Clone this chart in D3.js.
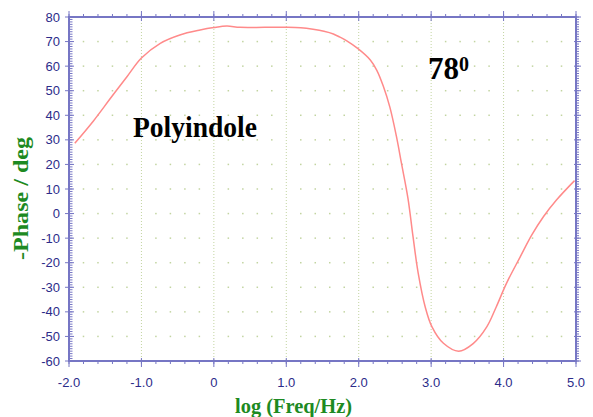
<!DOCTYPE html>
<html>
<head>
<meta charset="utf-8">
<script src="https://cdn.jsdelivr.net/npm/d3@7"></script>
<style>
  html, body { margin: 0; padding: 0; background: #ffffff; }
  svg { display: block; }
</style>
</head>
<body>
<svg id="chart" width="593" height="417"></svg>
<script>
// ---- data ----
const logFreq = [-1.92, -1.66, -1.43, -1.20, -1.00, -0.74, -0.47, -0.19, 0.00, 0.18, 0.36, 0.70, 1.00, 1.20, 1.37, 1.52, 1.65, 1.74, 1.83, 1.99, 2.16, 2.25, 2.34, 2.43, 2.52, 2.59, 2.68, 2.75, 2.82, 2.92, 3.01, 3.17, 3.38, 3.58, 3.77, 3.90, 4.04, 4.23, 4.39, 4.55, 4.73, 4.98];
const phase   = [28.6, 37.8, 46.8, 55.7, 63.3, 69.3, 72.7, 74.7, 75.7, 76.3, 75.8, 75.8, 75.8, 75.6, 75.0, 74.2, 73.1, 71.8, 70.4, 67.1, 62.5, 58.3, 51.8, 43.3, 31.5, 20.5, 6.2, -9.4, -24.0, -38.2, -46.0, -52.8, -56.0, -52.9, -46.0, -37.9, -28.4, -17.6, -8.7, -1.3, 5.5, 13.4];
const xTickValues = [-2, -1, 0, 1, 2, 3, 4, 5];
const xTickLabels = ["-2.0", "-1.0", "0", "1.0", "2.0", "3.0", "4.0", "5.0"];
const yTickValues = [-60, -50, -40, -30, -20, -10, 0, 10, 20, 30, 40, 50, 60, 70, 80];
const xTitle = "log (Freq/Hz)";
const yTitle = "-Phase / deg";
const sampleLabel = "Polyindole";
const angleLabel = "78";
const angleSup = "0";

// ---- layout ----
const svg = d3.select("#chart");
const L = 69, R = 576, T = 17, B = 361;
const x = d3.scaleLinear().domain([-2, 5]).range([L, R]);
const y = d3.scaleLinear().domain([-60, 80]).range([B, T]);

const axisColor = "#7676c4";
const labelColor = "#2c2c8a";
const gridColor = "#c2d4a0";
const titleColor = "#1d8a22";

// grid: vertical dotted lines at integer x
const g = svg.append("g");
g.selectAll("line.vgrid").data(d3.range(-1, 5)).enter().append("line")
  .attr("x1", d => x(d)).attr("x2", d => x(d))
  .attr("y1", T).attr("y2", B)
  .attr("stroke", gridColor).attr("stroke-width", 1)
  .attr("stroke-dasharray", "1,2");

// dot grid: every 0.2 in x, every 10 in y
const dotX = d3.range(-9, 25).map(i => i / 5).filter(v => Math.abs(v - Math.round(v)) > 1e-6);
const dotY = d3.range(-50, 80, 10);
const dots = [];
dotX.forEach(dx => dotY.forEach(dy => dots.push([dx, dy])));
g.selectAll("rect.dot").data(dots).enter().append("rect")
  .attr("x", d => x(d[0]) - 0.75).attr("y", d => y(d[1]) - 0.75)
  .attr("width", 1.5).attr("height", 1.5)
  .attr("fill", gridColor);

// ticks
const tk = svg.append("g").attr("stroke", axisColor).attr("stroke-width", 1);
tk.selectAll("line.lmin").data(d3.range(-60, 81, 1)).enter().append("line")
  .attr("x1", L).attr("x2", L + 3.5).attr("y1", d => y(d)).attr("y2", d => y(d));
tk.selectAll("line.lmaj").data(yTickValues).enter().append("line")
  .attr("x1", L - 4).attr("x2", L + 5).attr("y1", d => y(d)).attr("y2", d => y(d));
tk.selectAll("line.rmin").data(d3.range(-60, 81, 1)).enter().append("line")
  .attr("x1", R).attr("x2", R + 3).attr("y1", d => y(d)).attr("y2", d => y(d));
tk.selectAll("line.rmaj").data(yTickValues).enter().append("line")
  .attr("x1", R - 2).attr("x2", R + 5).attr("y1", d => y(d)).attr("y2", d => y(d));
const minorX = d3.range(-10, 26).map(i => i / 5);
tk.selectAll("line.tmin").data(minorX).enter().append("line")
  .attr("x1", d => x(d)).attr("x2", d => x(d)).attr("y1", T - 3).attr("y2", T);
tk.selectAll("line.tmaj").data(xTickValues).enter().append("line")
  .attr("x1", d => x(d)).attr("x2", d => x(d)).attr("y1", T - 6).attr("y2", T + 4);
tk.selectAll("line.bmin").data(minorX).enter().append("line")
  .attr("x1", d => x(d)).attr("x2", d => x(d)).attr("y1", B).attr("y2", B + 3);
tk.selectAll("line.bmaj").data(xTickValues).enter().append("line")
  .attr("x1", d => x(d)).attr("x2", d => x(d)).attr("y1", B - 3).attr("y2", B + 6);

// frame
svg.append("rect").attr("x", L).attr("y", T).attr("width", R - L).attr("height", B - T)
  .attr("fill", "none").attr("stroke", axisColor).attr("stroke-width", 2);

// tick labels
svg.append("g").selectAll("text").data(yTickValues).enter().append("text")
  .attr("x", 60).attr("y", d => y(d) + 4.5)
  .attr("text-anchor", "end")
  .attr("font-family", "'Liberation Sans', Arial, sans-serif")
  .attr("font-size", 13).attr("fill", labelColor)
  .text(d => d);
svg.append("g").selectAll("text").data(xTickValues).enter().append("text")
  .attr("x", d => x(d)).attr("y", 387)
  .attr("text-anchor", "middle")
  .attr("font-family", "'Liberation Sans', Arial, sans-serif")
  .attr("font-size", 13).attr("fill", labelColor)
  .text((d, i) => xTickLabels[i]);

// curve
const line = d3.line().x((d, i) => x(logFreq[i])).y(d => y(d)).curve(d3.curveCatmullRom.alpha(0.5));
svg.append("path").datum(phase)
  .attr("d", line)
  .attr("fill", "none").attr("stroke", "#ff8a8a").attr("stroke-width", 1.5);

// axis titles
svg.append("text")
  .attr("x", 235).attr("y", 413)
  .attr("font-family", "'Liberation Serif', 'Times New Roman', serif")
  .attr("font-weight", "bold").attr("font-size", 21)
  .attr("fill", titleColor)
  .attr("textLength", 117).attr("lengthAdjust", "spacingAndGlyphs")
  .text(xTitle);
svg.append("text")
  .attr("transform", "translate(28,260) rotate(-90)")
  .attr("x", 0).attr("y", 0)
  .attr("font-family", "'Liberation Serif', 'Times New Roman', serif")
  .attr("font-weight", "bold").attr("font-size", 21)
  .attr("fill", titleColor)
  .attr("textLength", 123).attr("lengthAdjust", "spacingAndGlyphs")
  .text(yTitle);

// annotations
svg.append("text")
  .attr("x", 133).attr("y", 137)
  .attr("font-family", "'Liberation Serif', 'Times New Roman', serif")
  .attr("font-weight", "bold").attr("font-size", 30)
  .attr("fill", "#000")
  .attr("textLength", 124).attr("lengthAdjust", "spacingAndGlyphs")
  .text(sampleLabel);
const ang = svg.append("text")
  .attr("x", 428).attr("y", 79)
  .attr("font-family", "'Liberation Serif', 'Times New Roman', serif")
  .attr("font-weight", "bold")
  .attr("fill", "#000");
ang.append("tspan").attr("font-size", 31).text(angleLabel);
ang.append("tspan").attr("font-size", 20).attr("dy", -8).text(angleSup);
</script>
</body>
</html>
